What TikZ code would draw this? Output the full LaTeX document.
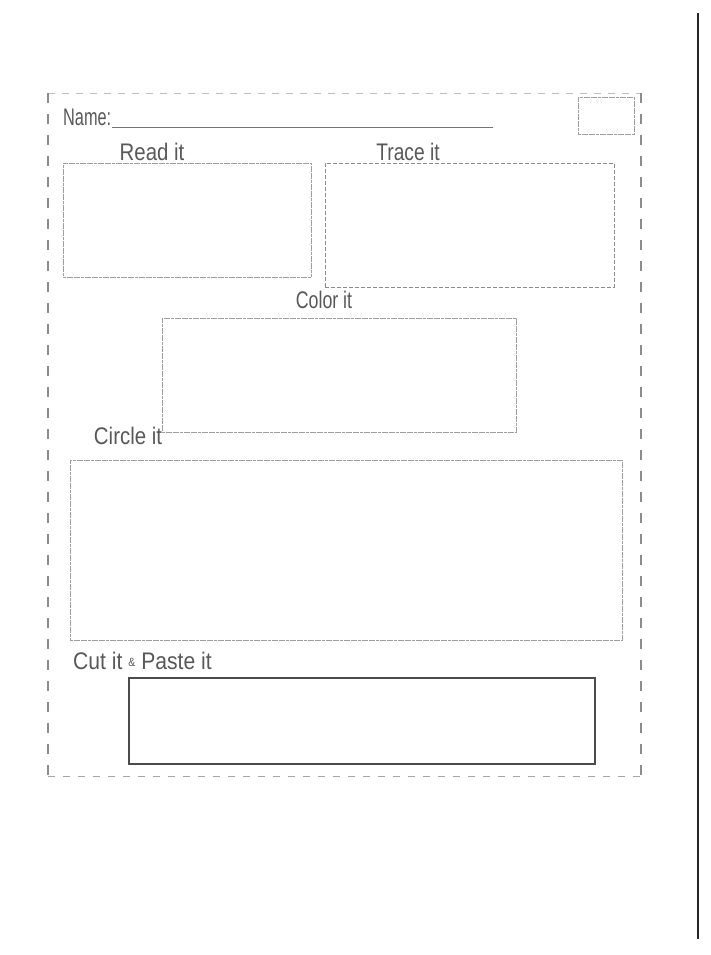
\documentclass[tikz,border=0pt]{standalone}
\usepackage{fontspec}
\setmainfont{Liberation Sans}
\begin{document}
\begin{tikzpicture}[x=1pt,y=-1pt,
  lbl/.style={font=\fontsize{24}{26}\selectfont, text=black!65, inner sep=0pt, anchor=base},
  box/.style={draw=black!38, line width=0.9pt, dash pattern=on 3pt off 0.6pt, inner sep=0pt},
  trbox/.style={draw=black!45, line width=1pt, dash pattern=on 4pt off 2pt, inner sep=0pt}]
\useasboundingbox (0,0) rectangle (711,955);
\fill[white] (0,0) rectangle (711,955);
% outer cut border
\coordinate (tl) at (48,93);
\coordinate (tr) at (641,93);
\coordinate (bl) at (48,776);
\coordinate (br) at (641,776);
\draw[black!25, line width=0.9pt, dash pattern=on 7pt off 7pt] (tl) -- (tr);
\draw[black!35, line width=1pt, dash pattern=on 7pt off 8pt] (bl) -- (br);
\draw[black!45, line width=1.3pt, dash pattern=on 10pt off 11pt] (tl) -- (bl);
\draw[black!45, line width=1.3pt, dash pattern=on 10pt off 11pt] (tr) -- (br);
% page edge line
\coordinate (et) at (698,13);
\coordinate (eb) at (698,939);
\draw[black!85, line width=1.5pt] (et) -- (eb);
% name
\node[lbl, anchor=base west] (name) at (63,125) {\scalebox{0.68}[1]{Name:}};
\coordinate (ul1) at (112,127);
\coordinate (ul2) at (493,127);
\draw[black!55, line width=0.9pt] (ul1) -- (ul2);
\node[box, minimum width=56, minimum height=37] (corner) at (606,115.5) {};
% read it
\node[lbl] (readl) at (152,160) {\scalebox{0.85}[1]{Read it}};
\node[box, minimum width=248, minimum height=114] (read) at (187,220) {};
% trace it
\node[lbl] (tracel) at (408,160) {\scalebox{0.8}[1]{Trace it}};
\node[trbox, minimum width=289, minimum height=124] (trace) at (469.5,225) {};
% color it
\node[lbl] (colorl) at (324,308) {\scalebox{0.74}[1]{Color it}};
\node[box, minimum width=354, minimum height=114] (color) at (339,375) {};
% circle it
\node[lbl] (circlel) at (128,444) {\scalebox{0.85}[1]{Circle it}};
\node[box, minimum width=552, minimum height=180] (circle) at (346,550) {};
% cut & paste
\node[lbl, anchor=base west] (cutl) at (73,669) {\scalebox{0.88}[1]{Cut it {\fontsize{12}{12}\selectfont\raisebox{3pt}{\&}} Paste it}};
\node[draw=black!70, line width=1.6pt, inner sep=0pt, minimum width=466, minimum height=86] (paste) at (362,721) {};
\end{tikzpicture}
\end{document}
